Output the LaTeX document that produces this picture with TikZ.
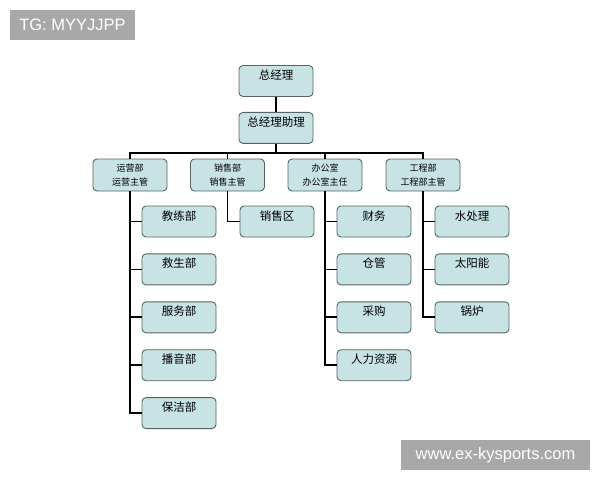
\documentclass[tikz,border=0pt]{standalone}
\usepackage{fontspec}
\newfontfamily\cjk{Noto Sans CJK SC}
\newfontfamily\lat{Liberation Sans}
\usetikzlibrary{positioning}
\definecolor{orgfill}{HTML}{C8E3E3}
\definecolor{orgedge}{HTML}{566464}
\definecolor{taggrey}{HTML}{A8A8A8}

\begin{document}
\begin{tikzpicture}[
  x=1pt, y=-1pt,
  b/.style={draw=orgedge, fill=orgfill, rounded corners=4pt, line width=0.9pt, minimum width=74pt, inner xsep=2pt, inner ysep=3pt, text height=11pt, text depth=14pt, font=\cjk\fontsize{11.5}{13}\selectfont},
  h/.style={draw=orgedge, fill=orgfill, rounded corners=4pt, line width=0.9pt, minimum width=74pt, minimum height=32pt, inner sep=2pt, align=center, font=\cjk\fontsize{9}{14}\selectfont},
  ln/.style={line width=1.7pt, black},
  tag/.style={fill=taggrey, text=white, inner sep=0pt, minimum height=30pt, font=\lat\fontsize{16.5}{18}\selectfont}
]
\useasboundingbox (0,0) rectangle (600,480);

% watermarks
\node[tag, minimum width=125pt] (tg) at (72.5,25) {TG: MYYJJPP};
\node[tag, minimum width=189pt] (site) at (495.5,455) {www.ex-kysports.com};

% top
\node[b] (gm) at (276,81) {总经理};
\node[b, below=15pt of gm] (asst) {总经理助理};

% departments
\node[h] (ops) at (130,175) {运营部\\运营主管};
\node[h] (sales) at (227.5,175) {销售部\\销售主管};
\node[h] (office) at (325,175) {办公室\\办公室主任};
\node[h] (eng) at (423,175) {工程部\\工程部主管};

% operations
\node[b] (jl) at (179,221.5) {教练部};
\node[b, below=16pt of jl] (js) {救生部};
\node[b, below=16pt of js] (fw) {服务部};
\node[b, below=16pt of fw] (by) {播音部};
\node[b, below=16pt of by] (bj) {保洁部};

% sales
\node[b] (xsq) at (277,221.5) {销售区};

% office
\node[b] (cw) at (374,221.5) {财务};
\node[b, below=16pt of cw] (cg) {仓管};
\node[b, below=16pt of cg] (cg2) {采购};
\node[b, below=16pt of cg2] (rl) {人力资源};

% engineering
\node[b] (scl) at (472,221.5) {水处理};
\node[b, below=16pt of scl] (tyn) {太阳能};
\node[b, below=16pt of tyn] (gl) {锅炉};

\coordinate (bus) at (276,153);
\draw[ln] (gm) -- (asst);
\draw[ln] (asst) -- (bus);
\draw[ln] (ops.north) |- (bus) -| (eng.north);
\draw[ln] (sales.north) |- (bus);
\draw[ln] (office.north) |- (bus);

\foreach \c in {jl,js,fw,by,bj} \draw[ln] (ops.south) |- (\c.west);
\draw[ln] (sales.south) |- (xsq.west);
\foreach \c in {cw,cg,cg2,rl} \draw[ln] (office.south) |- (\c.west);
\foreach \c in {scl,tyn,gl} \draw[ln] (eng.south) |- (\c.west);
\end{tikzpicture}
\end{document}
